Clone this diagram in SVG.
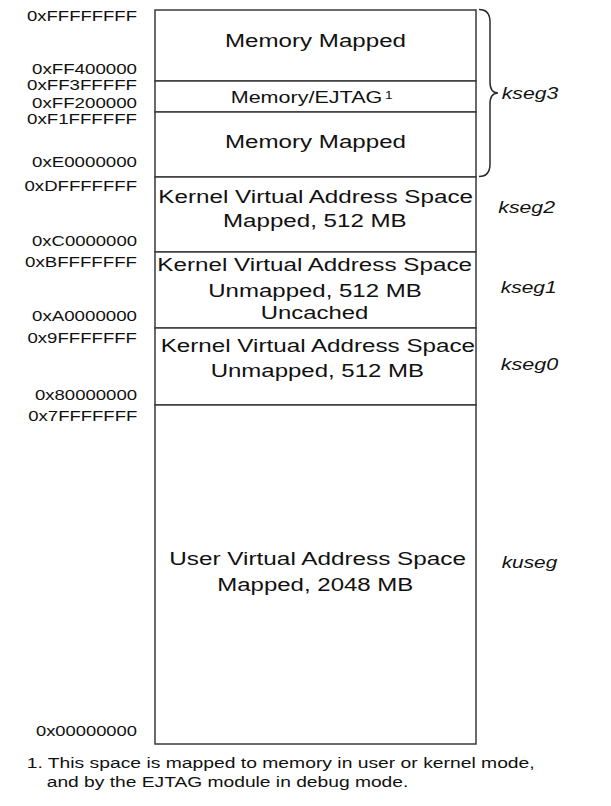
<svg xmlns="http://www.w3.org/2000/svg" width="611" height="806" viewBox="0 0 611 806">
<style>
text{font-family:"Liberation Sans",Arial,sans-serif;fill:#111}
.addr{font-size:14.6px}
.main{font-size:18.5px}
.ej{font-size:16.5px}
.seg{font-size:16px;font-style:italic}
.note{font-size:15px}
.box{fill:#fff;stroke:#3a3a3a;stroke-width:1.5}
.brace{fill:none;stroke:#2a2a2a;stroke-width:1.5}
</style>
<rect width="611" height="806" fill="#fff"/>
<g id="addresses" transform="scale(1.3,1)">
<text class="addr" x="20.77" y="21" textLength="84.62" lengthAdjust="spacingAndGlyphs">0xFFFFFFFF</text>
<text class="addr" x="24.62" y="74" textLength="80.77" lengthAdjust="spacingAndGlyphs">0xFF400000</text>
<text class="addr" x="20.77" y="90.5" textLength="84.62" lengthAdjust="spacingAndGlyphs">0xFF3FFFFF</text>
<text class="addr" x="24.62" y="108" textLength="80.77" lengthAdjust="spacingAndGlyphs">0xFF200000</text>
<text class="addr" x="20.77" y="124" textLength="84.62" lengthAdjust="spacingAndGlyphs">0xF1FFFFFF</text>
<text class="addr" x="24.62" y="167" textLength="80.77" lengthAdjust="spacingAndGlyphs">0xE0000000</text>
<text class="addr" x="18.85" y="191" textLength="86.54" lengthAdjust="spacingAndGlyphs">0xDFFFFFFF</text>
<text class="addr" x="24.62" y="246" textLength="80.77" lengthAdjust="spacingAndGlyphs">0xC0000000</text>
<text class="addr" x="19.23" y="267" textLength="86.15" lengthAdjust="spacingAndGlyphs">0xBFFFFFFF</text>
<text class="addr" x="24.62" y="321" textLength="80.77" lengthAdjust="spacingAndGlyphs">0xA0000000</text>
<text class="addr" x="21.15" y="343" textLength="84.23" lengthAdjust="spacingAndGlyphs">0x9FFFFFFF</text>
<text class="addr" x="26.92" y="400" textLength="78.46" lengthAdjust="spacingAndGlyphs">0x80000000</text>
<text class="addr" x="21.77" y="421.5" textLength="83.85" lengthAdjust="spacingAndGlyphs">0x7FFFFFFF</text>
<text class="addr" x="27.69" y="735.7" textLength="77.69" lengthAdjust="spacingAndGlyphs">0x00000000</text>
</g>
<g id="mm-top">
<rect class="box" x="155" y="10" width="321" height="71"/>
<text class="main" transform="scale(1.3,1)" x="173.08" y="46.7" textLength="139.23" lengthAdjust="spacingAndGlyphs">Memory Mapped</text>
</g>
<g id="ejtag">
<rect class="box" x="155" y="81" width="321" height="31"/>
<text class="ej" transform="scale(1.3,1)"><tspan x="177.46" y="103.3" textLength="116.62" lengthAdjust="spacingAndGlyphs">Memory/EJTAG</tspan><tspan x="296.15" y="99" font-size="10.5">1</tspan></text>
</g>
<g id="mm-low">
<rect class="box" x="155" y="112" width="321" height="65"/>
<text class="main" transform="scale(1.3,1)" x="173.08" y="148.3" textLength="139.23" lengthAdjust="spacingAndGlyphs">Memory Mapped</text>
</g>
<g id="kseg2">
<rect class="box" x="155" y="177" width="321" height="75"/>
<text class="main" transform="scale(1.3,1)" x="121.77" y="203.3" textLength="242.08" lengthAdjust="spacingAndGlyphs">Kernel Virtual Address Space</text>
<text class="main" transform="scale(1.3,1)" x="171.54" y="226.7" textLength="141.31" lengthAdjust="spacingAndGlyphs">Mapped, 512 MB</text>
</g>
<g id="kseg1">
<rect class="box" x="155" y="252" width="321" height="76"/>
<text class="main" transform="scale(1.3,1)" x="121" y="270.7" textLength="242.08" lengthAdjust="spacingAndGlyphs">Kernel Virtual Address Space</text>
<text class="main" transform="scale(1.3,1)" x="160.23" y="297.3" textLength="164.15" lengthAdjust="spacingAndGlyphs">Unmapped, 512 MB</text>
<text class="main" transform="scale(1.3,1)" x="200.54" y="319" textLength="82.77" lengthAdjust="spacingAndGlyphs">Uncached</text>
</g>
<g id="kseg0">
<rect class="box" x="155" y="328" width="321" height="77"/>
<text class="main" transform="scale(1.3,1)" x="123.62" y="351.7" textLength="241.77" lengthAdjust="spacingAndGlyphs">Kernel Virtual Address Space</text>
<text class="main" transform="scale(1.3,1)" x="162.08" y="376.7" textLength="164.08" lengthAdjust="spacingAndGlyphs">Unmapped, 512 MB</text>
</g>
<g id="kuseg">
<rect class="box" x="155" y="405" width="321" height="339"/>
<text class="main" transform="scale(1.3,1)" x="130.23" y="565" textLength="228.23" lengthAdjust="spacingAndGlyphs">User Virtual Address Space</text>
<text class="main" transform="scale(1.3,1)" x="167.15" y="590.7" textLength="150.77" lengthAdjust="spacingAndGlyphs">Mapped, 2048 MB</text>
</g>
<g id="connectors">
<path class="brace" d="M479,9.5 C487,9.5 490,14 490,22 L490,82 C490,89 493,93 498,93 C493,93 490,97 490,104 L490,164 C490,172 487,176.5 479,176.5"/>
</g>
<g id="segment-labels" transform="scale(1.3,1)">
<text class="seg" x="385.92" y="99.3" textLength="43.54" lengthAdjust="spacingAndGlyphs">kseg3</text>
<text class="seg" x="383.31" y="213.3" textLength="43.62" lengthAdjust="spacingAndGlyphs">kseg2</text>
<text class="seg" x="385.15" y="293.3" textLength="43.08" lengthAdjust="spacingAndGlyphs">kseg1</text>
<text class="seg" x="385.15" y="370" textLength="44.31" lengthAdjust="spacingAndGlyphs">kseg0</text>
<text class="seg" x="385.92" y="568" textLength="42.77" lengthAdjust="spacingAndGlyphs">kuseg</text>
</g>
<g id="footnote" transform="scale(1.3,1)">
<text class="note" x="20.54" y="768.3" textLength="390.77" lengthAdjust="spacingAndGlyphs">1. This space is mapped to memory in user or kernel mode,</text>
<text class="note" x="35.92" y="786.7" textLength="278.15" lengthAdjust="spacingAndGlyphs">and by the EJTAG module in debug mode.</text>
</g>
</svg>
